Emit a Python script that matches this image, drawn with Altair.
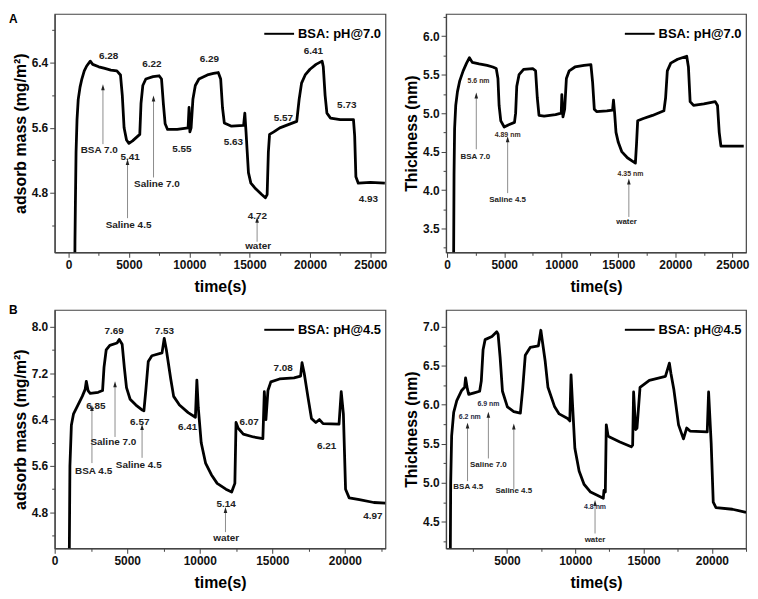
import altair as alt
import pandas as pd

FONT = "Liberation Sans"

# ---------------- Panel A (BSA pH 7.0): adsorbed mass ----------------
a_mass_t = [500, 530, 560, 620, 700, 800, 950, 1100, 1300, 1500,
            1800, 2000, 2500, 3000, 3500, 4000, 4300, 4450, 4600, 4800,
            5000, 5300, 5600, 5900, 6000, 6150, 6400, 7000, 7500, 7700,
            7850, 8000, 8200, 9000, 9900, 9980, 10050, 10150, 10300, 10500,
            10800, 11500, 12000, 12400, 12600, 12750, 12900, 13500, 14500, 14600,
            14700, 14800, 14900, 15100, 15500, 16000, 16300, 16450, 16550, 16650,
            17000, 17500, 18200, 18900, 19100, 19300, 19600, 20000, 20500, 21000,
            21100, 21250, 21400, 21700, 22500, 23200, 23600, 23700, 23800, 24000,
            25000, 26200]
a_mass_v = [3.5, 4.2, 4.6, 5.3, 5.7, 5.95, 6.1, 6.2, 6.3, 6.36,
            6.42, 6.38, 6.35, 6.33, 6.31, 6.3, 6.25, 6.0, 5.6, 5.45,
            5.41, 5.44, 5.48, 5.52, 5.9, 6.12, 6.2, 6.23, 6.24, 6.2,
            5.9, 5.65, 5.58, 5.58, 5.6, 5.85, 5.55, 5.6, 5.95, 6.12,
            6.2, 6.25, 6.27, 6.28, 6.2, 5.85, 5.66, 5.62, 5.63, 5.78,
            5.55, 5.3, 5.05, 4.92, 4.85, 4.78, 4.74, 4.78, 5.3, 5.52,
            5.55, 5.6, 5.64, 5.68, 5.95, 6.15, 6.25, 6.32, 6.38, 6.42,
            6.35, 6.0, 5.78, 5.72, 5.7, 5.7, 5.7, 5.5, 5.0, 4.92,
            4.93, 4.92]
a_mass_val_txt = ["6.28", "6.22", "6.29", "6.41", "5.73", "5.57", "5.41", "5.55", "5.63", "4.72", "4.93"]
a_mass_val_x = [3311, 6904, 11672, 20281, 23046, 17798, 5108, 9387, 13659, 15646, 24834]
a_mass_val_y = [6.48, 6.39, 6.45, 6.55, 5.88, 5.72, 5.24, 5.34, 5.42, 4.52, 4.73]
a_mass_cond_txt = ["BSA 7.0", "Saline 7.0", "Saline 4.5", "water"]
a_mass_cond_x = [2541, 7318, 4967, 15701]
a_mass_cond_y = [5.33, 4.91, 4.41, 4.15]
a_mass_arr_x = [2848, 4884, 7037, 15618]
a_mass_arr_from = [5.40, 4.49, 4.99, 4.20]
a_mass_arr_to = [6.10, 5.18, 5.96, 4.47]

# ---------------- Panel A (BSA pH 7.0): thickness ----------------
a_th_t = [560, 600, 650, 750, 900, 1100, 1400, 1700, 1950, 2200,
          2800, 3500, 4000, 4300, 4450, 4550, 4700, 5000, 5400, 5900,
          6000, 6100, 6300, 6700, 7500, 7750, 7900, 8050, 8500, 9500,
          10000, 10050, 10150, 10300, 10450, 10700, 11200, 12000, 12600, 12750,
          12900, 13100, 14000, 14500, 14580, 14680, 14800, 15000, 15300, 15800,
          16200, 16500, 16600, 16700, 17200, 18000, 19000, 19150, 19300, 19600,
          20200, 21000, 21150, 21300, 21600, 22500, 23500, 23700, 23850, 24000,
          25000, 26000]
a_th_v = [3.0, 4.2, 4.8, 5.1, 5.28, 5.42, 5.55, 5.65, 5.72, 5.66,
          5.64, 5.62, 5.6, 5.58, 5.45, 5.1, 4.9, 4.82, 4.85, 4.88,
          5.0, 5.35, 5.5, 5.57, 5.58, 5.55, 5.2, 4.97, 4.96, 4.98,
          5.0, 5.24, 4.95, 5.05, 5.45, 5.55, 5.6, 5.62, 5.63, 5.4,
          5.05, 5.02, 5.03, 5.04, 5.17, 5.0, 4.75, 4.62, 4.5, 4.42,
          4.38, 4.35, 4.6, 4.9, 4.93, 4.97, 5.03, 5.2, 5.55, 5.65,
          5.7, 5.74, 5.6, 5.15, 5.1, 5.12, 5.15, 5.1, 4.75, 4.57,
          4.57, 4.57]
a_th_val_txt = ["5.6 nm", "4.89 nm", "4.35 nm"]
a_th_val_x = [2749, 5300, 16069]
a_th_val_y = [5.42, 4.71, 4.21]
a_th_cond_txt = ["BSA 7.0", "Saline 4.5", "water"]
a_th_cond_x = [2466, 5300, 15729]
a_th_cond_y = [4.43, 3.87, 3.58]
a_th_arr_x = [2551, 5300, 15927]
a_th_arr_from = [4.53, 3.96, 3.65]
a_th_arr_to = [5.23, 4.66, 4.11]

# ---------------- Panel B (BSA pH 4.5): adsorbed mass ----------------
b_mass_t = [1000, 1050, 1150, 1300, 1600, 1900, 2100, 2180, 2300, 2450,
            3000, 3300, 3400, 3550, 3800, 4300, 4450, 4650, 4800, 4950,
            5200, 5600, 6000, 6150, 6280, 6450, 6700, 7400, 7550, 7700,
            8000, 8200, 8600, 9200, 9700, 9800, 9900, 10100, 10400, 10800,
            11200, 11800, 12200, 12300, 12420, 12500, 12650, 13000, 13700, 14350,
            14450, 14560, 14700, 14900, 15500, 16500, 16950, 17050, 17200, 17450,
            17700, 18000, 18250, 18500, 19600, 19750, 19900, 20050, 20300, 21000,
            22000, 22800]
b_mass_v = [3.8, 5.6, 6.3, 6.5, 6.65, 6.8, 6.92, 7.06, 6.9, 6.85,
            6.87, 6.9, 7.3, 7.6, 7.68, 7.72, 7.78, 7.7, 7.3, 6.95,
            6.75, 6.65, 6.57, 6.55, 6.9, 7.4, 7.5, 7.55, 7.8, 7.6,
            7.1, 6.8, 6.65, 6.52, 6.44, 7.08, 6.6, 6.0, 5.65, 5.45,
            5.3, 5.2, 5.15, 5.22, 5.3, 6.35, 6.25, 6.15, 6.1, 6.07,
            6.88, 6.4, 6.9, 7.05, 7.1, 7.12, 7.15, 7.38, 7.2, 6.8,
            6.42, 6.35, 6.4, 6.33, 6.32, 6.88, 6.5, 5.2, 5.05, 5.02,
            4.97, 4.96]
b_mass_val_txt = ["6.85", "7.69", "6.57", "7.53", "6.41", "6.07", "7.08", "6.21", "5.14", "4.97"]
b_mass_val_x = [2841, 4091, 5864, 7568, 9159, 13409, 15750, 18750, 11818, 21932]
b_mass_val_y = [6.63, 7.92, 6.35, 7.92, 6.28, 6.35, 7.29, 5.95, 4.94, 4.74]
b_mass_cond_txt = ["BSA 4.5", "Saline 7.0", "Saline 4.5", "water"]
b_mass_cond_x = [2682, 4045, 5795, 11818]
b_mass_cond_y = [5.51, 6.01, 5.62, 4.36]
b_mass_arr_x = [2568, 4159, 6023, 11773]
b_mass_arr_from = [5.65, 6.10, 5.74, 4.46]
b_mass_arr_to = [6.60, 7.01, 6.27, 4.84]

# ---------------- Panel B (BSA pH 4.5): thickness ----------------
b_th_t = [845, 880, 950, 1100, 1325, 1683, 1900, 1970, 2100, 2200,
          2600, 3000, 3120, 3250, 3400, 3900, 4250, 4350, 4500, 4670,
          5030, 5500, 5980, 6150, 6340, 6700, 7300, 7480, 7600, 7800,
          8000, 8490, 8820, 9440, 9600, 9690, 9800, 9970, 10280, 10640,
          11120, 11830, 12050, 12100, 12200, 12270, 12400, 12550, 13270, 14100,
          14200, 14270, 14420, 14520, 14740, 15420, 16600, 16890, 17000, 17210,
          17560, 17920, 18160, 18400, 19660, 19760, 19950, 20100, 20300, 21500,
          22500]
b_th_v = [3.8, 5.0, 5.6, 5.9, 6.05, 6.18, 6.22, 6.34, 6.2, 6.13,
          6.15, 6.17, 6.3, 6.7, 6.83, 6.87, 6.93, 6.9, 6.6, 6.17,
          5.97, 5.91, 5.89, 6.2, 6.63, 6.73, 6.75, 6.95, 6.8, 6.55,
          6.22, 5.97, 5.88, 5.82, 5.79, 6.38, 6.0, 5.44, 5.15, 4.98,
          4.88, 4.82, 4.8, 4.9, 4.88, 5.74, 5.6, 5.58, 5.52, 5.46,
          5.48, 6.16, 5.68, 5.7, 6.22, 6.31, 6.36, 6.53, 6.4, 6.2,
          5.74, 5.56, 5.7, 5.66, 5.65, 6.16, 5.5, 4.75, 4.68, 4.66,
          4.62]
b_th_val_txt = ["6.2 nm", "6.9 nm", "4.8 nm"]
b_th_val_x = [2278, 3639, 11447]
b_th_val_y = [5.84, 6.0, 4.69]
b_th_cond_txt = ["BSA 4.5", "Saline 7.0", "Saline 4.5", "water"]
b_th_cond_x = [2163, 3639, 5501, 11447]
b_th_cond_y = [4.94, 5.22, 4.89, 4.27]
b_th_arr_x = [2113, 3639, 5501, 11447]
b_th_arr_from = [5.02, 5.31, 4.92, 4.35]
b_th_arr_to = [5.73, 5.87, 5.72, 4.74]

# axis tick values (major + minor)
time_ticks_a = [0, 2500, 5000, 7500, 10000, 12500, 15000, 17500, 20000, 22500, 25000]
time_ticks_b = [0, 2500, 5000, 7500, 10000, 12500, 15000, 17500, 20000, 22500]
mass_ticks_a = [4.4, 4.8, 5.2, 5.6, 6.0, 6.4, 6.8]
mass_ticks_b = [4.4, 4.8, 5.2, 5.6, 6.0, 6.4, 6.8, 7.2, 7.6, 8.0]
th_ticks_a = [3.25, 3.5, 3.75, 4.0, 4.25, 4.5, 4.75, 5.0, 5.25, 5.5, 5.75, 6.0, 6.25]
th_ticks_b = [4.25, 4.5, 4.75, 5.0, 5.25, 5.5, 5.75, 6.0, 6.25, 6.5, 6.75, 7.0]

MASS_MAJOR = "round(datum.value*10) % 8 === 0"
TH_MAJOR = "round(datum.value*100) % 50 === 0"
TIME_MAJOR = "datum.value % 5000 === 0"


def panel(t, v, series, y_title, x_dom, y_dom, x_ticks, y_ticks, y_major,
          val_txt, val_x, val_y, val_size, val_color,
          cond_txt, cond_x, cond_y, cond_size,
          arr_x, arr_from, arr_to, w, h, letter=None, letter_y=0):
    xs = alt.Scale(domain=x_dom, nice=False, zero=False)
    ys = alt.Scale(domain=y_dom, nice=False, zero=False)
    x_axis = alt.Axis(
        title="time(s)", values=x_ticks,
        labelExpr=f"{TIME_MAJOR} ? format(datum.value, 'd') : ''",
        tickSize={"condition": {"test": TIME_MAJOR, "value": 5}, "value": 3},
        labelFlush=False, labelOverlap=False, grid=False, titlePadding=8)
    y_axis = alt.Axis(
        title=y_title, values=y_ticks,
        labelExpr=f"{y_major} ? format(datum.value, '.1f') : ''",
        tickSize={"condition": {"test": y_major, "value": 5}, "value": 3},
        labelOverlap=False, grid=False, titlePadding=3)

    line_df = pd.DataFrame({"t": t, "v": v, "series": series})
    line = alt.Chart(line_df).mark_line(
        strokeWidth=2.8, clip=True, strokeJoin="round"
    ).encode(
        x=alt.X("t:Q", scale=xs, axis=x_axis),
        y=alt.Y("v:Q", scale=ys, axis=y_axis),
        color=alt.Color("series:N", scale=alt.Scale(range=["#000000"]),
                        legend=alt.Legend(title=None)),
    )
    arr_df = pd.DataFrame({"x": arr_x, "y0": arr_from, "y1": arr_to})
    shafts = alt.Chart(arr_df).mark_rule(color="#8c8c8c", strokeWidth=1).encode(
        x=alt.X("x:Q", scale=xs, axis=x_axis),
        y=alt.Y("y0:Q", scale=ys, axis=y_axis),
        y2="y1:Q",
    )
    heads = alt.Chart(arr_df).mark_point(
        shape="M0,-1L-0.6,1L0.6,1Z", filled=True, size=36, color="#222222", opacity=1
    ).encode(
        x=alt.X("x:Q", scale=xs, axis=x_axis),
        y=alt.Y("y1:Q", scale=ys, axis=y_axis),
    )
    val_df = pd.DataFrame({"x": val_x, "y": val_y, "txt": val_txt})
    vals = alt.Chart(val_df).mark_text(
        fontSize=val_size, fontWeight="bold", color=val_color, font=FONT
    ).encode(
        x=alt.X("x:Q", scale=xs, axis=x_axis),
        y=alt.Y("y:Q", scale=ys, axis=y_axis),
        text="txt:N",
    )
    cond_df = pd.DataFrame({"x": cond_x, "y": cond_y, "txt": cond_txt})
    conds = alt.Chart(cond_df).mark_text(
        fontSize=cond_size, fontWeight="bold", color="#222222", font=FONT
    ).encode(
        x=alt.X("x:Q", scale=xs, axis=x_axis),
        y=alt.Y("y:Q", scale=ys, axis=y_axis),
        text="txt:N",
    )
    layers = [line, shafts, heads, vals, conds]
    if letter:
        let = alt.Chart(pd.DataFrame({"l": [letter]})).mark_text(
            align="left", baseline="top", fontSize=12, fontWeight="bold",
            color="#000000", font=FONT
        ).encode(text="l:N", x=alt.value(-46), y=alt.value(letter_y))
        layers.append(let)
    return alt.layer(*layers).properties(width=w, height=h)


WL, WR, H = 333, 302, 240

a1 = panel(a_mass_t, a_mass_v, "BSA: pH@7.0", "adsorb mass (mg/m²)",
           [-1150, 26250], [4.07, 7.0], time_ticks_a, mass_ticks_a, MASS_MAJOR,
           a_mass_val_txt, a_mass_val_x, a_mass_val_y, 10, "#222222",
           a_mass_cond_txt, a_mass_cond_x, a_mass_cond_y, 10,
           a_mass_arr_x, a_mass_arr_from, a_mass_arr_to, WL, H, letter="A", letter_y=0)
a2 = panel(a_th_t, a_th_v, "BSA: pH@7.0 ", "Thickness (nm)",
           [-100, 26200], [3.19, 6.29], time_ticks_a, th_ticks_a, TH_MAJOR,
           a_th_val_txt, a_th_val_x, a_th_val_y, 7, "#3a2a20",
           a_th_cond_txt, a_th_cond_x, a_th_cond_y, 8,
           a_th_arr_x, a_th_arr_from, a_th_arr_to, WR, H)
b1 = panel(b_mass_t, b_mass_v, "BSA: pH@4.5", "adsorb mass (mg/m²)",
           [0, 22800], [4.18, 8.29], time_ticks_b, mass_ticks_b, MASS_MAJOR,
           b_mass_val_txt, b_mass_val_x, b_mass_val_y, 10, "#222222",
           b_mass_cond_txt, b_mass_cond_x, b_mass_cond_y, 10,
           b_mass_arr_x, b_mass_arr_from, b_mass_arr_to, WL, H, letter="B", letter_y=-5)
b2 = panel(b_th_t, b_th_v, "BSA: pH@4.5 ", "Thickness (nm)",
           [540, 22500], [4.16, 7.21], time_ticks_b[1:], th_ticks_b, TH_MAJOR,
           b_th_val_txt, b_th_val_x, b_th_val_y, 7, "#1f2a44",
           b_th_cond_txt, b_th_cond_x, b_th_cond_y, 8,
           b_th_arr_x, b_th_arr_from, b_th_arr_to, WR, H)

chart = alt.concat(
    a1, a2, b1, b2, columns=2, spacing={"row": 8, "column": 14}
).resolve_scale(color="independent").properties(
    padding=0, background="white"
).configure(font=FONT).configure_view(
    stroke="#444444", strokeWidth=1.2
).configure_axis(
    labelFont=FONT, labelFontSize=12, labelFontWeight="bold", labelColor="#111111",
    labelPadding=2, titleFont=FONT, titleFontSize=16, titleFontWeight="bold",
    titleColor="#000000", domainColor="#444444", tickColor="#444444",
    domainWidth=1.2, tickWidth=1,
).configure_legend(
    orient="top-right", offset=4, padding=0, labelFont=FONT, labelFontSize=13,
    labelFontWeight="bold", labelColor="#000000", symbolType="stroke",
    symbolSize=900, symbolStrokeWidth=2, labelOffset=3,
)

chart.save("out.html", embed_options={"renderer": "svg", "actions": False})
